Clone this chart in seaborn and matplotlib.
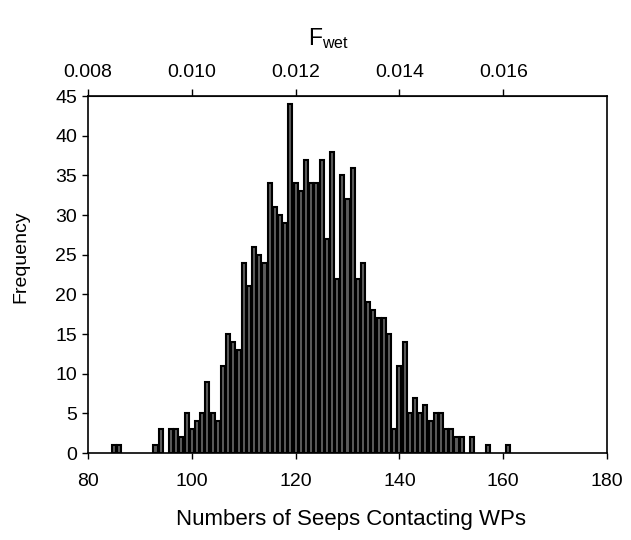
import matplotlib
matplotlib.use("Agg")
import matplotlib.pyplot as plt
import seaborn as sns
import numpy as np
import pandas as pd

# Number of seeps contacting waste packages, and how often each count occurred
seeps = [85, 86, 93, 94, 96, 97, 98, 99, 100, 101, 102, 103, 104, 105,
         106, 107, 108, 109, 110, 111, 112, 113, 114, 115, 116, 117, 118,
         119, 120, 121, 122, 123, 124, 125, 126, 127, 128, 129, 130, 131,
         132, 133, 134, 135, 136, 137, 138, 139, 140, 141, 142, 143, 144,
         145, 146, 147, 148, 149, 150, 151, 152, 154, 157, 161]
frequency = [1, 1, 1, 3, 3, 3, 2, 5, 3, 4, 5, 9, 5, 4,
             11, 15, 14, 13, 24, 21, 26, 25, 24, 34, 31, 30, 29,
             44, 34, 33, 37, 34, 34, 37, 27, 38, 22, 35, 32, 36,
             22, 24, 19, 18, 17, 17, 15, 3, 11, 14, 5, 7, 5,
             6, 4, 5, 5, 3, 3, 2, 2, 2, 1, 1]

bottom_ticks = [80, 100, 120, 140, 160, 180]
top_ticks = [0.008, 0.010, 0.012, 0.014, 0.016]
y_ticks = list(range(0, 46, 5))

df = pd.DataFrame({"seeps": seeps, "frequency": frequency})

sns.set_style("white")
plt.rcParams["font.family"] = ["Liberation Sans", "DejaVu Sans"]
plt.rcParams["mathtext.fontset"] = "custom"
plt.rcParams["mathtext.rm"] = "Liberation Sans"
plt.rcParams["mathtext.it"] = "Liberation Sans"
for key in ["text.color", "axes.labelcolor", "xtick.color", "ytick.color"]:
    plt.rcParams[key] = "black"

fig = plt.figure(figsize=(6.31, 5.40), dpi=100)
ax = fig.add_axes([0.1395, 0.161, 0.8225, 0.661])

sns.barplot(data=df, x="seeps", y="frequency", native_scale=True,
            color="#5c5c5c", saturation=1, width=0.78,
            edgecolor="black", linewidth=1.5, ax=ax)

ax.set_xlim(80, 180)
ax.set_ylim(0, 45)
ax.set_xticks(bottom_ticks)
ax.set_yticks(y_ticks)
ax.tick_params(axis="y", labelsize=14, direction="out", length=4,
               width=1, color="black", left=True, pad=4)
ax.tick_params(axis="x", labelsize=14, direction="out", length=4,
               width=1, color="black", bottom=True, pad=10)
ax.set_xlabel("Numbers of Seeps Contacting WPs", fontsize=16)
ax.set_ylabel("Frequency", fontsize=14)
ax.xaxis.set_label_coords(0.506, -0.156)
ax.yaxis.set_label_coords(-0.113, 0.549)

for side in ["left", "right", "top", "bottom"]:
    ax.spines[side].set_visible(True)
    ax.spines[side].set_color("black")
    ax.spines[side].set_linewidth(1.2)

# F_wet scale on top: fraction of the 10000 waste packages contacted
top = ax.secondary_xaxis("top", functions=(lambda n: n / 10000.0,
                                           lambda f: f * 10000.0))
top.set_xticks(top_ticks)
top.set_xticklabels([f"{t:.3f}" for t in top_ticks])
top.tick_params(labelsize=14, direction="out", length=5, width=1, pad=6,
                colors="black")
ax.text(0.463, 1.143, r"F$_{\mathrm{wet}}$", transform=ax.transAxes,
        ha="center", va="baseline", fontsize=16.5)

fig.savefig("out.png", dpi=100, facecolor="white")
